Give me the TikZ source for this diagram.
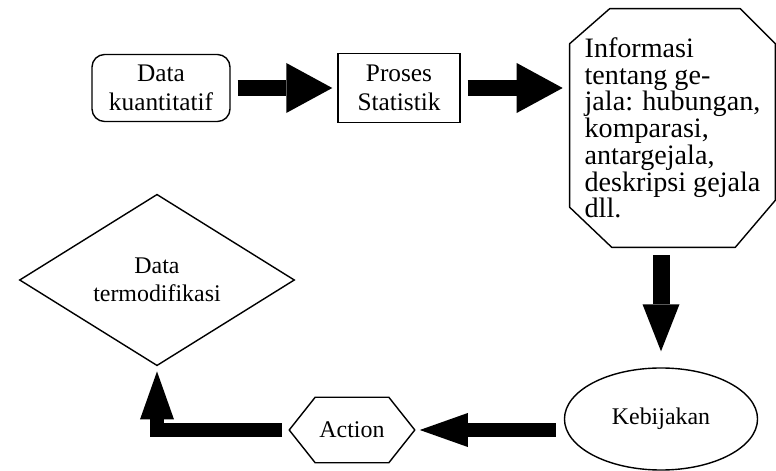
\documentclass[tikz,border=0pt]{standalone}
\usepackage{fontspec}
\setmainfont{Liberation Serif}
\usetikzlibrary{arrows.meta,calc,positioning,shapes.geometric}

\begin{document}
\begin{tikzpicture}[
    x=0.025cm, y=-0.025cm,
    box/.style={draw, line width=1pt, align=center, inner sep=2pt, font=\fontsize{18}{20.5}\selectfont},
    startbox/.style={box, rounded corners=9pt, minimum width=3.45cm, minimum height=1.675cm},
    procbox/.style={box, minimum width=3.05cm, minimum height=1.725cm},
    infobox/.style={align=left, inner sep=0pt, minimum width=5.125cm, minimum height=5.95cm, font=\fontsize{20}{19}\selectfont},
    decision/.style={diamond, draw, line width=1pt, align=center, inner sep=0pt, minimum width=6.875cm, minimum height=4.1cm, font=\fontsize{17}{20}\selectfont},
    policy/.style={ellipse, draw, line width=1pt, minimum width=4.825cm, minimum height=2.55cm, font=\fontsize{17}{20}\selectfont},
    actbox/.style={align=center, inner sep=0pt, minimum width=3.125cm, minimum height=1.625cm, font=\fontsize{17}{20}\selectfont},
    outline/.style={line width=1pt, line join=round},
    bigarrow/.style={line width=0.4cm, -{Triangle[length=1.15cm, width=1.25cm, line width=0pt]}},
    arrow/.style={line width=0.35cm, line join=miter, -{Triangle[length=1.2cm, width=0.85cm, line width=0pt]}}
  ]
    \useasboundingbox (0,0) rectangle (776,471);

    \node[startbox] (data) at (161,88) {Data\\kuantitatif};
    \node[procbox] (proses) at (399,88) {Proses\\Statistik};
    \node[infobox] (info) at (672.5,128) {Informasi\\tentang ge-\\jala: hubungan,\\komparasi,\\antargejala,\\deskripsi gejala\\dll.};
    \node[policy] (keb) at (661,419) {Kebijakan};
    \node[actbox] (action) at (352,430) {Action};
    \node[decision] (dia) at (157,280) {Data\\termodifikasi};

    % octagon round the info text
    \draw[outline] ([xshift=1cm]info.north west) -- ([xshift=-0.875cm]info.north east)
      -- ([yshift=-0.875cm]info.north east) -- ([yshift=1.175cm]info.south east)
      -- ([xshift=-1cm]info.south east) -- ([xshift=1.05cm]info.south west)
      -- ([yshift=1cm]info.south west) -- ([yshift=-0.875cm]info.north west) -- cycle;
    % hexagon round action
    \draw[outline] (action.west) -- ([xshift=0.65cm]action.north west)
      -- ([xshift=-0.65cm]action.north east) -- (action.east)
      -- ([xshift=-0.65cm]action.south east) -- ([xshift=0.65cm]action.south west) -- cycle;

    \draw[bigarrow, shorten <=0.175cm, shorten >=0.125cm] (data.east) -- (proses.west);
    \draw[bigarrow, shorten <=0.175cm, shorten >=0.175cm] (proses.east) -- (proses.east -| info.west);
    \draw[line width=0.425cm, -{Triangle[length=1.175cm, width=0.925cm, line width=0pt]},
      shorten <=0.2cm, shorten >=0.4cm] (info.south -| keb.north) -- (keb.north);
    \draw[arrow, shorten <=0.2cm, shorten >=0.125cm] (keb.west |- action.east) -- (action.east);
    \draw[arrow, shorten <=0.175cm, shorten >=0.125cm] (action.west) -| (dia.south);
  \end{tikzpicture}
\end{document}
